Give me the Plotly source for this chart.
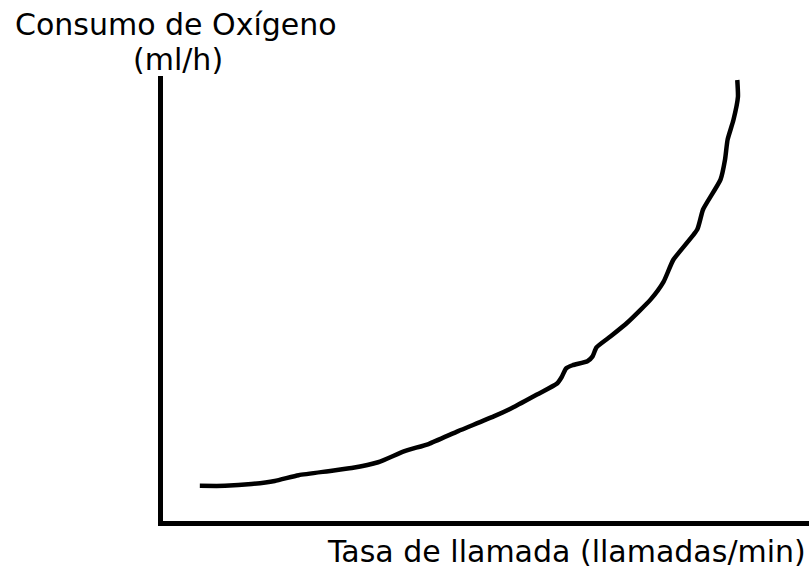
import plotly.graph_objects as go

# Call rate (arbitrary units along the horizontal axis)
tasa = [5.7, 9.6, 13.7, 17.3, 21.0, 25.6, 29.2, 33.3, 37.4, 41.1, 45.7, 51.2,
        54.3, 58.0, 61.0, 61.7, 62.4, 63.4, 65.7, 66.5, 67.1, 69.3, 71.9, 75.5,
        77.5, 79.0, 82.7, 83.6, 86.3, 87.0, 87.4, 88.3, 89.0, 88.9]
# Oxygen consumption (arbitrary units along the vertical axis)
consumo = [7.9, 7.9, 8.3, 9.0, 10.3, 11.2, 11.9, 13.2, 15.7, 17.3, 20.2, 23.5,
           25.6, 28.5, 30.9, 32.3, 34.3, 35.0, 35.9, 37.0, 39.0, 41.5, 44.6, 49.8,
           53.8, 58.7, 65.5, 70.0, 76.7, 81.2, 85.7, 90.1, 95.3, 99.1]

titulo_y1 = "Consumo de Oxígeno"
titulo_y2 = "(ml/h)"
titulo_x = "Tasa de llamada (llamadas/min)"

fig = go.Figure()
fig.add_trace(go.Scatter(
    x=tasa, y=consumo, mode="lines",
    line=dict(color="black", width=4.5, shape="spline", smoothing=0.5),
    cliponaxis=False, hoverinfo="skip", showlegend=False,
))

font = dict(family="DejaVu Sans", size=30, color="black")

fig.update_layout(
    width=809, height=572,
    margin=dict(l=163, r=0, t=76, b=51),
    paper_bgcolor="white", plot_bgcolor="white",
    xaxis=dict(range=[0, 100], showline=True, linewidth=5, linecolor="black",
               showgrid=False, zeroline=False, showticklabels=False, ticks=""),
    yaxis=dict(range=[0, 100], showline=True, linewidth=5, linecolor="black",
               showgrid=False, zeroline=False, showticklabels=False, ticks=""),
    annotations=[
        dict(text=titulo_y1, xref="paper", yref="paper", x=0.020, y=1.116,
             xanchor="center", yanchor="middle", showarrow=False, font=font),
        dict(text=titulo_y2, xref="paper", yref="paper", x=0.023, y=1.036,
             xanchor="center", yanchor="middle", showarrow=False, font=font),
        dict(text=titulo_x, xref="paper", yref="paper", x=0.9985, y=-0.069,
             xanchor="right", yanchor="middle", showarrow=False, font=font),
    ],
)

fig.write_html("out.html")
